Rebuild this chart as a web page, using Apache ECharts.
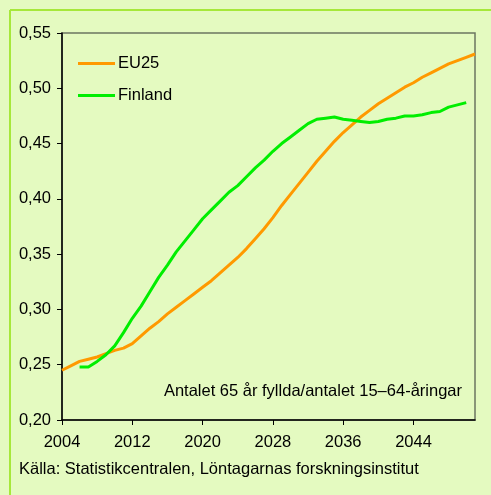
<!DOCTYPE html>
<html>
<head>
<meta charset="utf-8">
<script src="https://cdn.jsdelivr.net/npm/echarts@6/dist/echarts.min.js"></script>
<style>
html,body{margin:0;padding:0;background:#e4fac0;}
#main{width:491px;height:495px;}
</style>
</head>
<body>
<div id="main"></div>
<script>
// EU25: 2004-2051, Finland: 2006-2050
const euStart = 2004;
const euValues = [0.245,0.249,0.253,0.255,0.257,0.260,0.263,0.265,0.269,0.276,
    0.283,0.289,0.296,0.302,0.308,0.314,0.320,0.326,0.333,0.340,
    0.347,0.355,0.364,0.373,0.383,0.394,0.404,0.414,0.424,0.434,
    0.443,0.452,0.460,0.467,0.474,0.480,0.486,0.491,0.496,0.501,
    0.505,0.510,0.514,0.518,0.522,0.525,0.528,0.531];
const finStart = 2006;
const finValues = [0.248,0.248,0.253,0.259,0.267,0.279,0.292,0.303,0.316,0.329,
    0.340,0.352,0.362,0.372,0.382,0.390,0.398,0.406,0.412,0.420,
    0.428,0.435,0.443,0.450,0.456,0.462,0.468,0.472,0.473,0.474,
    0.472,0.471,0.470,0.469,0.470,0.472,0.473,0.475,0.475,0.476,
    0.478,0.479,0.483,0.485,0.487];
const xTicks = [2004,2012,2020,2028,2036,2044];
const seriesNames = ['EU25','Finland'];

function pairs(start, values){
    return values.map(function(v,i){ return [start+i, v]; });
}

const font = 'Liberation Sans, Arial, sans-serif';
let myChart = echarts.init(document.getElementById('main'));
let option = {
    backgroundColor: '#e4fac0',
    animation: false,
    grid: {
        left: 62, top: 33, right: 16, bottom: 75,
        show: true,
        borderColor: '#6b7560',
        borderWidth: 1.5
    },
    legend: {
        orient: 'vertical',
        left: 78, top: 55, padding: 0,
        itemWidth: 37, itemHeight: 14, itemGap: 15,
        icon: 'path://M0,6 L37,6 L37,9 L0,9 Z',
        textStyle: {fontFamily: font, fontSize: 16.5, color: '#000', padding: [0,0,0,-2]},
        data: seriesNames
    },
    xAxis: {
        type: 'value',
        min: 2004, max: 2051,
        axisLine: {lineStyle: {color: '#000', width: 1.5}},
        axisTick: {length: 5, lineStyle: {color: '#000'}, customValues: xTicks},
        axisLabel: {
            customValues: xTicks, fontFamily: font, fontSize: 16.5, color: '#000', margin: 14,
            formatter: function(v){ return String(v); }
        },
        splitLine: {show: false}
    },
    yAxis: {
        type: 'value',
        min: 0.2, max: 0.55, interval: 0.05,
        axisLine: {show: true, lineStyle: {color: '#000', width: 1.5}},
        axisTick: {show: true, length: 5, lineStyle: {color: '#000'}},
        axisLabel: {
            fontFamily: font, fontSize: 16.5, color: '#000', margin: 11,
            formatter: function(v){ return v.toFixed(2).replace('.', ','); }
        },
        splitLine: {show: false}
    },
    series: [{
        name: seriesNames[0],
        type: 'line',
        symbol: 'none',
        color: '#ff9900',
        lineStyle: {width: 3, color: '#ff9900'},
        data: pairs(euStart, euValues)
    }, {
        name: seriesNames[1],
        type: 'line',
        symbol: 'none',
        color: '#00ee00',
        lineStyle: {width: 3, color: '#00ee00'},
        data: pairs(finStart, finValues)
    }],
    graphic: [{
        type: 'line',
        shape: {x1: 10, y1: 10, x2: 491, y2: 10},
        style: {stroke: '#a6e83a', lineWidth: 2}
    }, {
        type: 'line',
        shape: {x1: 10, y1: 10, x2: 10, y2: 495},
        style: {stroke: '#a6e83a', lineWidth: 2}
    }, {
        type: 'text',
        right: 29, top: 383,
        style: {text: 'Antalet 65 år fyllda/antalet 15–64-åringar', font: '16.5px ' + font, fill: '#000'}
    }, {
        type: 'text',
        left: 19, top: 461,
        style: {text: 'Källa: Statistikcentralen, Löntagarnas forskningsinstitut', font: '16.5px ' + font, fill: '#000'}
    }]
};
myChart.setOption(option);
</script>
</body>
</html>
